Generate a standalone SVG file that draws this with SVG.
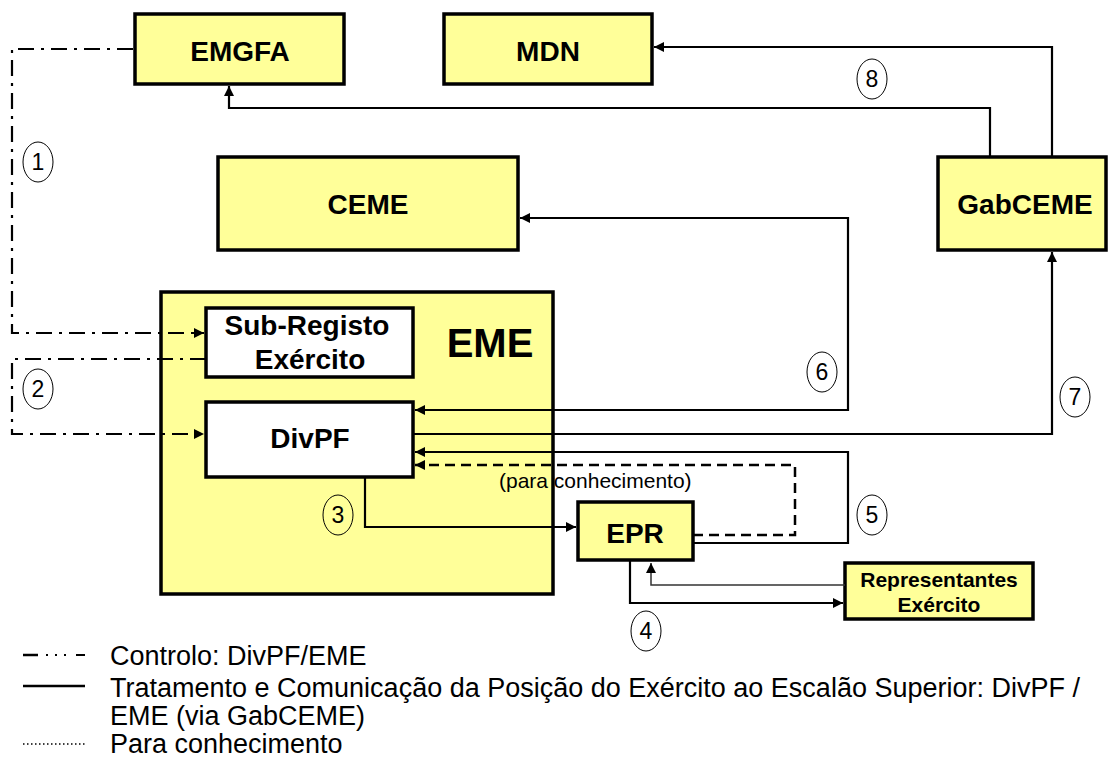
<svg xmlns="http://www.w3.org/2000/svg" width="1108" height="760" viewBox="0 0 1108 760">
<style>
.box{fill:#ffff99;stroke:#000;stroke-width:3.5}
.wbox{fill:#fff;stroke:#000;stroke-width:3.5}
.t{font-family:"Liberation Sans",Arial,sans-serif;font-weight:bold;fill:#000;text-anchor:middle}
.c{fill:none;stroke:#000;stroke-width:2.2}
.dd{stroke-dasharray:16 7 3 7}
.dash{stroke-dasharray:10 6;stroke-width:2.5}
.thin{stroke-width:1.5;stroke:#333}
.lbl{fill:none;stroke:#000;stroke-width:1}
.num{font-family:"Liberation Sans",Arial,sans-serif;font-size:23px;fill:#000;text-anchor:middle}
.leg{font-family:"Liberation Sans",Arial,sans-serif;font-size:27px;fill:#000}
</style>
<defs>
<marker id="ah" markerUnits="userSpaceOnUse" markerWidth="11" markerHeight="10" refX="10" refY="5" orient="auto-start-reverse" viewBox="0 0 11 10">
<path d="M0,0 L10,5 L0,10 z" fill="#000"/>
</marker>
</defs>
<rect width="1108" height="760" fill="#fff"/>
<g id="EME"><rect class="box" x="161" y="292" width="392" height="302"/><text class="t" x="490" y="357" font-size="40">EME</text></g>
<g id="EMGFA"><rect class="box" x="135" y="14" width="209" height="70"/><text class="t" x="240" y="61" font-size="28">EMGFA</text></g>
<g id="MDN"><rect class="box" x="444" y="14" width="208" height="70"/><text class="t" x="548" y="61" font-size="28">MDN</text></g>
<g id="CEME"><rect class="box" x="218" y="157" width="300" height="93"/><text class="t" x="368" y="214" font-size="28">CEME</text></g>
<g id="GabCEME"><rect class="box" x="938" y="157" width="168" height="93"/><text class="t" x="1025" y="214" font-size="28">GabCEME</text></g>
<g id="SubRegisto"><rect class="wbox" x="206" y="308" width="207" height="69"/><text class="t" x="307" y="335" font-size="28">Sub-Registo</text><text class="t" x="310" y="369" font-size="28">Exército</text></g>
<g id="DivPF"><rect class="wbox" x="206" y="402" width="207" height="75"/><text class="t" x="310" y="448" font-size="28">DivPF</text></g>
<g id="EPR"><rect class="box" x="578" y="502" width="115" height="58"/><text class="t" x="635" y="543" font-size="28">EPR</text></g>
<g id="Representantes"><rect class="box" x="845" y="563" width="188" height="56"/><text class="t" x="939" y="587" font-size="21">Representantes</text><text class="t" x="939" y="612" font-size="21">Exército</text></g>
<g id="connectors">
<path class="c dd" d="M133,49 H12 V333 H204" marker-end="url(#ah)"/>
<path class="c dd" d="M206,359 H12 V434 H204" marker-end="url(#ah)"/>
<path class="c" d="M365,477 V527 H576" marker-end="url(#ah)"/>
<path class="c" d="M630,561 V603 H843" marker-end="url(#ah)"/>
<path class="c thin" d="M845,585 H651 V563" marker-end="url(#ah)"/>
<path class="c" d="M693,543 H848 V452 H415" marker-end="url(#ah)"/>
<path class="c dash" d="M693,535 H795 V465 H415" marker-end="url(#ah)"/>
<path class="c" d="M415,410 H848 V218 H520" marker-start="url(#ah)" marker-end="url(#ah)"/>
<path class="c" d="M413,434 H1052 V252" marker-end="url(#ah)"/>
<path class="c" d="M990,157 V108 H229 V86" marker-end="url(#ah)"/>
<path class="c" d="M1052,157 V47 H654" marker-end="url(#ah)"/>
</g>
<g id="labels">
<ellipse class="lbl" cx="38" cy="162" rx="15" ry="20"/><text class="num" x="38" y="170">1</text>
<ellipse class="lbl" cx="38" cy="389" rx="15" ry="20"/><text class="num" x="38" y="397">2</text>
<ellipse class="lbl" cx="338" cy="515" rx="15" ry="20"/><text class="num" x="338" y="523">3</text>
<ellipse class="lbl" cx="646" cy="631" rx="15" ry="20"/><text class="num" x="646" y="639">4</text>
<ellipse class="lbl" cx="872" cy="515" rx="15" ry="20"/><text class="num" x="872" y="523">5</text>
<ellipse class="lbl" cx="822" cy="372" rx="15" ry="20"/><text class="num" x="822" y="380">6</text>
<ellipse class="lbl" cx="1075" cy="397" rx="15" ry="20"/><text class="num" x="1075" y="405">7</text>
<ellipse class="lbl" cx="872" cy="79" rx="15" ry="20"/><text class="num" x="872" y="87">8</text>
<text x="499" y="488" font-family="'Liberation Sans',Arial,sans-serif" font-size="21" fill="#000">(para conhecimento)</text>
</g>
<g id="legend">
<line x1="23" y1="655" x2="38" y2="655" stroke="#000" stroke-width="2.5"/>
<line x1="46" y1="655" x2="70" y2="655" stroke="#000" stroke-width="2" stroke-dasharray="2 7"/>
<line x1="76" y1="655" x2="85" y2="655" stroke="#000" stroke-width="2"/>
<text class="leg" x="110" y="665">Controlo: DivPF/EME</text>
<line x1="23" y1="686" x2="85" y2="686" stroke="#000" stroke-width="2.5"/>
<text class="leg" x="110" y="697">Tratamento e Comunicação da Posição do Exército ao Escalão Superior: DivPF /</text>
<text class="leg" x="110" y="725">EME (via GabCEME)</text>
<line x1="23" y1="744" x2="85" y2="744" stroke="#000" stroke-width="1.5" stroke-dasharray="1.5 2.5"/>
<text class="leg" x="110" y="753">Para conhecimento</text>
</g>
</svg>
